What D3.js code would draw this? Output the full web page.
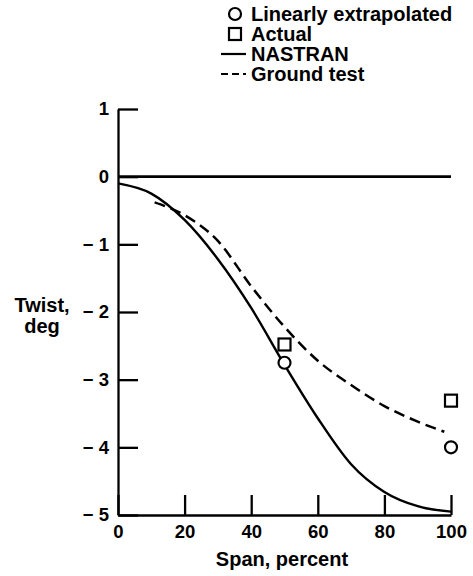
<!DOCTYPE html>
<meta charset="utf-8">
<script src="https://d3js.org/d3.v7.min.js"></script>
<style>
  body { margin: 0; background: #fff; }
  text { font-family: "Liberation Sans", Arial, sans-serif; font-weight: bold; fill: #000; }
</style>
<div id="chart"></div>
<script>

// span, percent
var nastranSpan  = [0, 10, 20, 30, 40, 50, 60, 70, 80, 90, 100]
var nastranTwist = [-0.1, -0.25, -0.64, -1.22, -1.94, -2.78, -3.57, -4.25, -4.66, -4.87, -4.95]

var groundSpan  = [11, 20, 30, 40, 50, 60, 70, 80, 90, 98]
var groundTwist = [-0.38, -0.57, -0.95, -1.62, -2.22, -2.72, -3.08, -3.39, -3.62, -3.77]

var extrapSpan  = [50, 100]
var extrapTwist = [-2.75, -4.0]

var actualSpan  = [50, 100]
var actualTwist = [-2.48, -3.31]

var xTicks = [0, 20, 40, 60, 80, 100]
var yTicks = [1, 0, -1, -2, -3, -4, -5]

var legendLabels = ["Linearly extrapolated", "Actual", "NASTRAN", "Ground test"]

var width = 473,
    height = 576

var svg = d3.select("#chart")
  .append("svg")
    .attr("width", width)
    .attr("height", height)

var x = d3.scaleLinear().domain([0, 100]).range([118, 451])
var y = d3.scaleLinear().domain([1, -5]).range([109, 515])

// axes: ticks point inward
svg.append("g")
    .attr("transform", "translate(0," + y(-5) + ")")
    .call(d3.axisBottom(x).tickValues(xTicks).tickSizeInner(-20).tickSizeOuter(0).tickPadding(10))
    .call(function(g) {
      g.selectAll("text").style("font-size", "18.5px")
      g.selectAll("line, path").attr("stroke-width", 2.3)
    })

svg.append("g")
    .attr("transform", "translate(" + x(0) + ",0)")
    .call(d3.axisLeft(y).tickValues(yTicks).tickSizeInner(-20).tickSizeOuter(0).tickPadding(9)
      .tickFormat(function(d) { return d < 0 ? "\u2212 " + Math.abs(d) : d }))
    .call(function(g) {
      g.selectAll("text").style("font-size", "18.5px")
      g.selectAll("line, path").attr("stroke-width", 2.3)
    })

// zero reference line
svg.append("line")
    .attr("x1", x(0)).attr("x2", x(100))
    .attr("y1", y(0)).attr("y2", y(0))
    .attr("stroke", "#000")
    .attr("stroke-width", 2.8)

var line = d3.line()
    .x(function(d) { return x(d[0]) })
    .y(function(d) { return y(d[1]) })
    .curve(d3.curveMonotoneX)

svg.append("path")
    .datum(d3.zip(nastranSpan, nastranTwist))
    .attr("d", line)
    .attr("fill", "none")
    .attr("stroke", "#000")
    .attr("stroke-width", 2.4)

svg.append("path")
    .datum(d3.zip(groundSpan, groundTwist))
    .attr("d", line)
    .attr("fill", "none")
    .attr("stroke", "#000")
    .attr("stroke-width", 2.5)
    .attr("stroke-dasharray", "11,6")

svg.selectAll(".extrap")
  .data(d3.zip(extrapSpan, extrapTwist))
  .enter()
  .append("circle")
    .attr("cx", function(d) { return x(d[0]) })
    .attr("cy", function(d) { return y(d[1]) })
    .attr("r", 6)
    .attr("fill", "#fff")
    .attr("stroke", "#000")
    .attr("stroke-width", 2.2)

svg.selectAll(".actual")
  .data(d3.zip(actualSpan, actualTwist))
  .enter()
  .append("rect")
    .attr("x", function(d) { return x(d[0]) - 6 })
    .attr("y", function(d) { return y(d[1]) - 6 })
    .attr("width", 12)
    .attr("height", 12)
    .attr("fill", "#fff")
    .attr("stroke", "#000")
    .attr("stroke-width", 2.2)

// axis titles
svg.append("text")
    .attr("x", 282)
    .attr("y", 566)
    .attr("text-anchor", "middle")
    .style("font-size", "20px")
    .text("Span, percent")

svg.append("text")
    .attr("x", 42)
    .attr("y", 312)
    .attr("text-anchor", "middle")
    .style("font-size", "20px")
    .text("Twist,")

svg.append("text")
    .attr("x", 42)
    .attr("y", 333)
    .attr("text-anchor", "middle")
    .style("font-size", "20px")
    .text("deg")

// legend
var legend = svg.append("g").attr("transform", "translate(235,14)")

legend.selectAll("text")
  .data(legendLabels)
  .enter()
  .append("text")
    .attr("x", 16)
    .attr("y", function(d, i) { return i * 20 })
    .attr("dy", "0.35em")
    .style("font-size", "20px")
    .text(function(d) { return d })

legend.append("circle")
    .attr("cx", 0).attr("cy", 0).attr("r", 6)
    .attr("fill", "#fff").attr("stroke", "#000").attr("stroke-width", 2.2)

legend.append("rect")
    .attr("x", -6).attr("y", 14).attr("width", 12).attr("height", 12)
    .attr("fill", "#fff").attr("stroke", "#000").attr("stroke-width", 2.2)

legend.append("line")
    .attr("x1", -14).attr("x2", 11).attr("y1", 40).attr("y2", 40)
    .attr("stroke", "#000").attr("stroke-width", 2.2)

legend.append("line")
    .attr("x1", -14).attr("x2", 11).attr("y1", 60).attr("y2", 60)
    .attr("stroke", "#000").attr("stroke-width", 2.2)
    .attr("stroke-dasharray", "7,4")

</script>
